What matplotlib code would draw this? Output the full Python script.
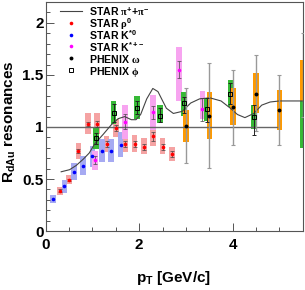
import matplotlib
matplotlib.use("Agg")
import matplotlib.pyplot as plt
from matplotlib.ticker import MultipleLocator, FixedLocator

plt.rcParams['font.family'] = ['Liberation Sans', 'DejaVu Sans']
plt.rcParams['font.weight'] = 'bold'
plt.rcParams['mathtext.fontset'] = 'custom'
plt.rcParams['mathtext.rm'] = 'Liberation Sans:bold'
plt.rcParams['mathtext.bf'] = 'Liberation Sans:bold'
plt.rcParams['mathtext.sf'] = 'Liberation Sans:bold'
plt.rcParams['mathtext.it'] = 'Liberation Serif'

# ---------------- data ----------------
# STAR pi+ + pi- curve
pi_x = [0.33, 0.51, 0.65, 0.80, 0.93, 1.05, 1.23, 1.40, 1.55, 1.69, 1.83, 1.93, 2.03,
        2.16, 2.29, 2.40, 2.58, 2.73, 2.92, 3.10, 3.29, 3.51, 3.75, 3.95, 4.10, 4.26,
        4.45, 4.62, 4.80, 5.00, 5.50]
pi_y = [0.57, 0.59, 0.63, 0.69, 0.75, 0.84, 0.93, 1.02, 1.08, 1.10, 1.07, 1.07, 1.12,
        1.27, 1.37, 1.34, 1.18, 1.13, 1.15, 1.23, 1.27, 1.28, 1.25, 1.18, 1.12, 1.09,
        1.13, 1.21, 1.24, 1.25, 1.25]

# STAR rho0
rho_x = [0.3, 0.5, 0.7, 0.9, 1.1, 1.3, 1.5, 1.7, 1.9, 2.1, 2.3, 2.5, 2.7]
rho_y = [0.39, 0.49, 0.77, 1.03, 1.03, 0.84, 0.99, 0.84, 0.84, 0.81, 0.91, 0.81, 0.74]
rho_sys_lo = [0.35, 0.45, 0.69, 0.93, 0.93, 0.76, 0.90, 0.76, 0.76, 0.74, 0.82, 0.74, 0.67]
rho_sys_hi = [0.42, 0.54, 0.85, 1.13, 1.13, 0.91, 1.08, 0.92, 0.92, 0.89, 1.00, 0.89, 0.81]
rho_err = [0.01, 0.01, 0.015, 0.02, 0.03, 0.03, 0.03, 0.03, 0.03, 0.03, 0.04, 0.03, 0.03]

# STAR K*0
k0_x = [0.15, 0.4, 0.6, 0.8, 1.0, 1.2, 1.4, 1.6]
k0_y = [0.31, 0.43, 0.57, 0.63, 0.72, 0.77, 0.77, 0.83]
k0_sys_lo = [0.27, 0.37, 0.49, 0.54, 0.62, 0.66, 0.66, 0.71]
k0_sys_hi = [0.35, 0.49, 0.65, 0.72, 0.82, 0.88, 0.88, 0.95]

# STAR K*+-
kc_x = [1.05, 1.7, 2.3, 2.85, 3.35]
kc_y = [0.68, 1.05, 1.14, 1.55, 1.17]
kc_sys_lo = [0.59, 0.88, 0.97, 1.25, 1.08]
kc_sys_hi = [0.77, 1.21, 1.31, 1.77, 1.35]
kc_err = [0.04, 0.07, 0.06, 0.08, 0.11]

# PHENIX omega
om_x = [3.0, 3.5, 4.0, 4.5, 5.0, 5.5]
om_y = [1.01, 1.11, 1.19, 1.32, 1.16, 1.45]
om_sys_lo = [0.86, 0.88, 1.02, 1.13, 0.97, 1.25]
om_sys_hi = [1.16, 1.34, 1.37, 1.52, 1.36, 1.64]
om_err_lo = [0.65, 0.61, 0.83, 0.96, 0.83, 1.10]
om_err_hi = [1.37, 1.61, 1.55, 1.69, 1.50, 1.90]

# PHENIX phi
ph_x = [1.07, 1.45, 1.95, 2.45, 2.95, 3.45, 3.95, 4.45, 5.5]
ph_y = [0.89, 1.13, 1.18, 1.11, 1.23, 1.17, 1.32, 1.10, 1.02]
ph_sys_lo = [0.79, 1.03, 1.08, 1.04, 1.11, 1.06, 1.19, 0.98, 0.80]
ph_sys_hi = [0.99, 1.25, 1.30, 1.21, 1.34, 1.28, 1.45, 1.21, 1.25]
ph_err_lo = [0.84, 1.05, 1.12, 1.05, 1.13, 1.05, 1.22, 0.92, 0.90]
ph_err_hi = [0.94, 1.22, 1.25, 1.18, 1.29, 1.28, 1.42, 1.21, 1.14]

ref_x = [0.0, 4.95]
ref_y = [1.0, 1.0]

legend_labels = [r"STAR $\pi^{+}\mathrm{+}\pi^{-}$", r"STAR $\rho^{0}$", r"STAR K$^{*0}$",
                 r"STAR K$^{*+-}$", r"PHENIX $\omega$", r"PHENIX $\phi$"]

XMAX = 5.5

# ---------------- plot ----------------
fig = plt.figure(figsize=(3.05, 2.90), dpi=100)
ax = fig.add_axes([0.15, 0.203, 0.843, 0.790])
ax.set_xlim(0, XMAX)
ax.set_ylim(0, 2.2)

W = 0.12

def boxes(x, lo, hi, color, z=1):
    ax.bar(x, [h - l for l, h in zip(lo, hi)], bottom=lo, width=W, color=color,
           linewidth=0, zorder=z)

def inside(x, y):
    pts = [(a, b) for a, b in zip(x, y) if a < XMAX]
    return [p[0] for p in pts], [p[1] for p in pts]

boxes(rho_x, rho_sys_lo, rho_sys_hi, '#f5a3a3', z=1)
boxes(k0_x, k0_sys_lo, k0_sys_hi, '#a6aaf2', z=1)
boxes(kc_x, kc_sys_lo, kc_sys_hi, '#f7a4f0', z=1)
boxes(om_x, om_sys_lo, om_sys_hi, '#ff9a00', z=1.2)
boxes(ph_x, ph_sys_lo, ph_sys_hi, '#36b936', z=1.1)

ax.plot(ref_x, ref_y, color='#666666', lw=1.0, zorder=2)
ax.plot(pi_x, pi_y, color='#444444', lw=0.8, zorder=2)

# error bars
ax.errorbar(om_x, om_y, yerr=[[y - l for y, l in zip(om_y, om_err_lo)],
                              [h - y for y, h in zip(om_y, om_err_hi)]],
            fmt='none', ecolor='#999999', elinewidth=1.0, capsize=1.5, capthick=0.8, zorder=3)
ax.errorbar(ph_x[:-1], ph_y[:-1],
            yerr=[[y - l for y, l in zip(ph_y[:-1], ph_err_lo[:-1])],
                  [h - y for y, h in zip(ph_y[:-1], ph_err_hi[:-1])]],
            fmt='none', ecolor='#222222', elinewidth=0.7, capsize=1.5, capthick=0.7, zorder=3)
ax.errorbar(rho_x, rho_y, yerr=rho_err, fmt='none', ecolor='#444444', elinewidth=0.5,
            capsize=1.2, capthick=0.5, zorder=3)
ax.errorbar(kc_x, kc_y, yerr=kc_err, fmt='none', ecolor='#444444', elinewidth=0.5,
            capsize=1.2, capthick=0.5, zorder=3)

ax.plot(rho_x, rho_y, 'o', color='#ff0000', ms=2.6, mew=0, zorder=4)
ax.plot(k0_x, k0_y, 'o', color='#0000ff', ms=2.6, mew=0, zorder=4)
ax.plot(kc_x, kc_y, 'o', color='#ff00ff', ms=2.6, mew=0, zorder=4)
ox, oy = inside(om_x, om_y)
ax.plot(ox, oy, 'o', color='black', ms=2.8, mew=0, zorder=4)
px_, py_ = inside(ph_x, ph_y)
ax.plot(px_, py_, 's', mfc='none', mec='black', ms=3.2, mew=0.7, zorder=4)

# legend (drawn manually, ROOT style)
rows = [0.962, 0.909, 0.858, 0.808, 0.757, 0.703]
tr = ax.transAxes
ax.plot([0.056, 0.141], [rows[0], rows[0]], color='#444444', lw=0.8, transform=tr, clip_on=False)
ax.plot([0.098], [rows[1]], 'o', color='#ff0000', ms=2.6, mew=0, transform=tr)
ax.plot([0.098], [rows[2]], 'o', color='#0000ff', ms=2.6, mew=0, transform=tr)
ax.plot([0.098], [rows[3]], 'o', color='#ff00ff', ms=2.6, mew=0, transform=tr)
ax.plot([0.098], [rows[4]], 'o', color='black', ms=2.8, mew=0, transform=tr)
ax.plot([0.098], [rows[5]], 's', mfc='none', mec='black', ms=3.2, mew=0.7, transform=tr)
for yy, lab in zip(rows, legend_labels):
    ax.text(0.168, yy, lab, transform=tr, fontsize=7.6, fontweight='bold',
            va='center_baseline', ha='left')

# axes styling
for s in ax.spines.values():
    s.set_color('#555555')
    s.set_linewidth(0.8)
ax.xaxis.set_major_locator(FixedLocator([0, 2, 4]))
ax.xaxis.set_minor_locator(MultipleLocator(0.5))
ax.yaxis.set_major_locator(MultipleLocator(0.5))
ax.yaxis.set_minor_locator(MultipleLocator(0.1))
ax.tick_params(which='both', direction='in', top=False, right=False, color='#555555', width=0.7)
ax.tick_params(which='major', length=6)
ax.tick_params(which='minor', length=3)
ax.tick_params(axis='x', which='major', pad=5, labelsize=11)
ax.tick_params(axis='y', which='major', pad=1.5, labelsize=11)
ax.set_xticklabels(['0', '2', '4'], fontweight='bold')
ax.set_yticks([0, 0.5, 1, 1.5, 2])
ax.set_yticklabels(['0', '0.5', '1', '1.5', '2'], fontweight='bold')

fig.text(174 / 305, 1 - 278 / 290, r"p$_{\mathrm{T}}$ [GeV/c]", fontsize=11,
         fontweight='bold', ha='center', va='center')
fig.text(10 / 305, 1 - 122 / 290, r"R$_{\mathrm{dAu}}$ resonances", fontsize=11,
         fontweight='bold', ha='center', va='center', rotation=90)

fig.savefig('out.png', dpi=100)
